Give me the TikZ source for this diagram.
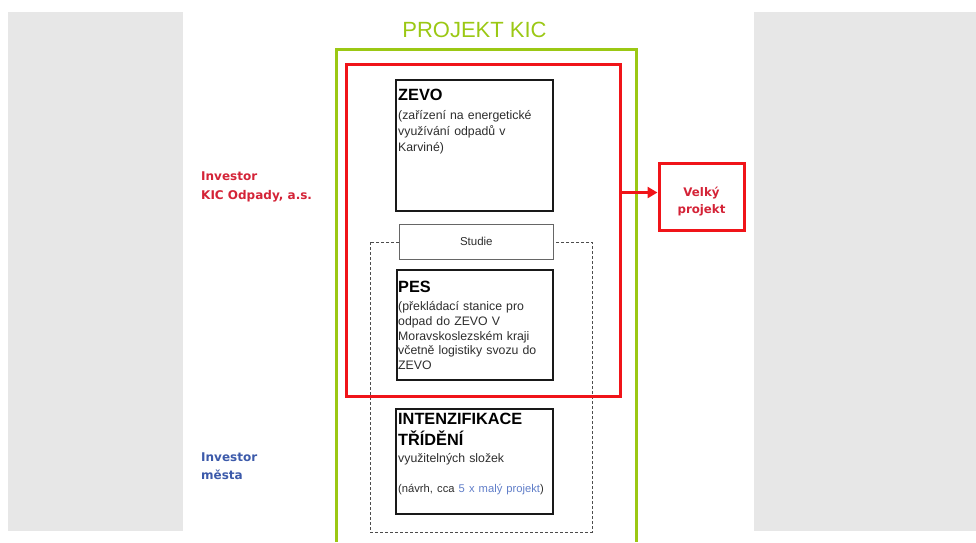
\documentclass[tikz,border=0pt]{standalone}
\usepackage{fontspec}
\setmainfont{Liberation Sans}
\newfontfamily\labelfont{DejaVu Sans}
\usepackage{xcolor}
\usetikzlibrary{
    arrows.meta,
    calc,
    positioning
}
\definecolor{kicgreen}{RGB}{155,200,20}
\definecolor{kicred}{RGB}{240,20,25}
\definecolor{invred}{RGB}{212,35,55}
\definecolor{invblue}{RGB}{60,90,170}
\definecolor{smallblue}{RGB}{95,125,200}
\definecolor{panelgray}{RGB}{231,231,231}
\definecolor{bodygray}{RGB}{45,45,45}
\newcommand{\boxhead}{\color{black}\bfseries\fontsize{16.3}{18}\selectfont}

\begin{document}
\begin{tikzpicture}[x=1pt, y=-1pt,
    box/.style={draw=black!90, line width=1.8pt, anchor=north west, inner sep=0pt},
    boxtext/.style={anchor=north west, align=left, inner sep=0pt, text width=152pt,
        text=bodygray, font=\fontsize{12.3}{16}\selectfont},
    investor/.style={anchor=west, align=left, inner sep=0pt, font=\labelfont\bfseries\fontsize{12}{19}\selectfont}]
    \useasboundingbox (0,0) rectangle (976,542);
    \fill[panelgray] (8,12) rectangle (183,531);
    \fill[panelgray] (754,12) rectangle (976,531);

    % project frame
    \node[text=kicgreen, font=\fontsize{22}{24}\selectfont, anchor=base] (title) at (474.5,37) {PROJEKT KIC};
    \draw[kicgreen, line width=3pt] (336,542) -- (336,49) -- (636,49) -- (636,542);

    % investors
    \node[investor, text=invred] (invkic) at (201,186.5) {Investor\\KIC Odpady, a.s.};
    \node[investor, text=invblue, font=\labelfont\bfseries\fontsize{12}{18}\selectfont] (invmesta) at (201,466) {Investor\\města};

    % study frame
    \draw[black!70, line width=0.7pt, dash pattern=on 3pt off 2pt] (370,242) rectangle (592,532);
    \node[draw=black!60, line width=0.6pt, fill=white, minimum width=154pt, minimum height=35pt,
        anchor=north west, text=bodygray, font=\fontsize{11.5}{13}\selectfont] (studie) at (399,224) {Studie};

    % boxes
    \node[box, minimum width=157pt, minimum height=131pt] (zevo) at (395,79) {};
    \node[boxtext] (zevotext) at ([xshift=3pt,yshift=-10pt]zevo.north west)
        {{\boxhead ZEVO}\\[2.5pt](zařízení na energetické\\využívání odpadů v\\Karviné)};

    \node[box, minimum width=156pt, minimum height=110pt] (pes) at (396,269) {};
    \node[boxtext, font=\fontsize{12.3}{14.7}\selectfont] (pestext) at ([xshift=2pt,yshift=-12pt]pes.north west)
        {{\boxhead PES}\\[3.5pt](překládací stanice pro\\odpad do ZEVO V\\Moravskoslezském kraji\\včetně logistiky svozu do\\ZEVO};

    \node[box, minimum width=157pt, minimum height=105pt] (intenz) at (395,408) {};
    \node[boxtext, font=\fontsize{12.3}{15}\selectfont] (intenztext) at ([xshift=3pt,yshift=-5pt]intenz.north west)
        {{\boxhead INTENZIFIKACE}\\[5.5pt]{\boxhead TŘÍDĚNÍ}\\[2pt]využitelných složek\\[15pt]%
        \mbox{\fontsize{11.2}{15}\selectfont(návrh, cca \textcolor{smallblue}{5 x malý projekt})}};

    % big project
    \node[draw=kicred, line width=3pt, minimum width=274pt, minimum height=332pt,
        anchor=north west, inner sep=0pt] (kicodpady) at (345,63) {};
    \node[draw=kicred, line width=3pt, minimum width=85pt, minimum height=67pt] (velky) at (701.5,196.5) {};
    \node[text=invred, align=center, font=\labelfont\bfseries\fontsize{11.8}{17}\selectfont]
        (velkytext) at ([yshift=-5pt]velky.center) {Velký\\projekt};
    \coordinate (arrowend) at ([yshift=4pt]velky.west);
    \draw[kicred, line width=2.5pt, -{Triangle[length=10pt,width=11pt]}] (kicodpady.east |- arrowend) -- (arrowend);
\end{tikzpicture}
\end{document}
